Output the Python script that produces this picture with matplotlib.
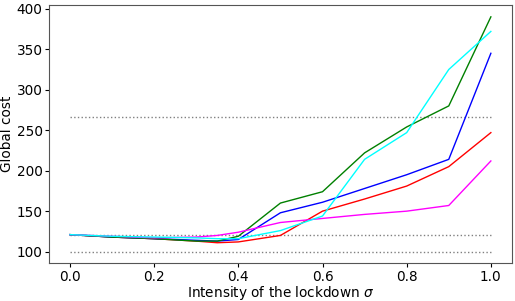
import numpy as np
import matplotlib
matplotlib.use("Agg")
import matplotlib.pyplot as plt

sigma = [0.0, 0.1, 0.2, 0.3, 0.35, 0.4, 0.5, 0.6, 0.7, 0.8, 0.9, 1.0]

cost_red = [121, 118, 116, 113, 111, 112, 120, 150, 165, 181, 205, 247]
cost_blue = [121, 118, 116, 114, 113, 115, 148, 161, 178, 195, 214, 345]
cost_green = [121, 118, 116, 113, 113, 119, 160, 174, 222, 254, 280, 390]
cost_magenta = [121, 119, 117, 118, 120, 124, 136, 141, 146, 150, 157, 212]
cost_cyan = [121, 119, 118, 117, 116, 116, 126, 144, 214, 247, 325, 372]

ref_levels = [266, 121, 100]

series = [
    (cost_red, 'red'),
    (cost_blue, 'blue'),
    (cost_green, 'green'),
    (cost_magenta, 'magenta'),
    (cost_cyan, 'cyan'),
]

fs = 9.8

fig = plt.figure(figsize=(5.15, 3.01), dpi=100)
ax = fig.add_axes([0.095, 0.125, 0.899, 0.858])

for level in ref_levels:
    ax.plot([sigma[0], sigma[-1]], [level, level], ':', color='grey', linewidth=1)

for vals, col in series:
    ax.plot(sigma, vals, color=col, linewidth=1)

ax.set_xlabel(r'Intensity of the lockdown $\sigma$', fontsize=fs, labelpad=0)
ax.set_ylabel('Global cost', fontsize=fs, labelpad=2)
ax.tick_params(labelsize=fs, length=3, pad=1.5)
ax.set_yticks([100, 150, 200, 250, 300, 350, 400])
for s in ax.spines.values():
    s.set_color('#555555')

fig.savefig('out.png', dpi=100)
